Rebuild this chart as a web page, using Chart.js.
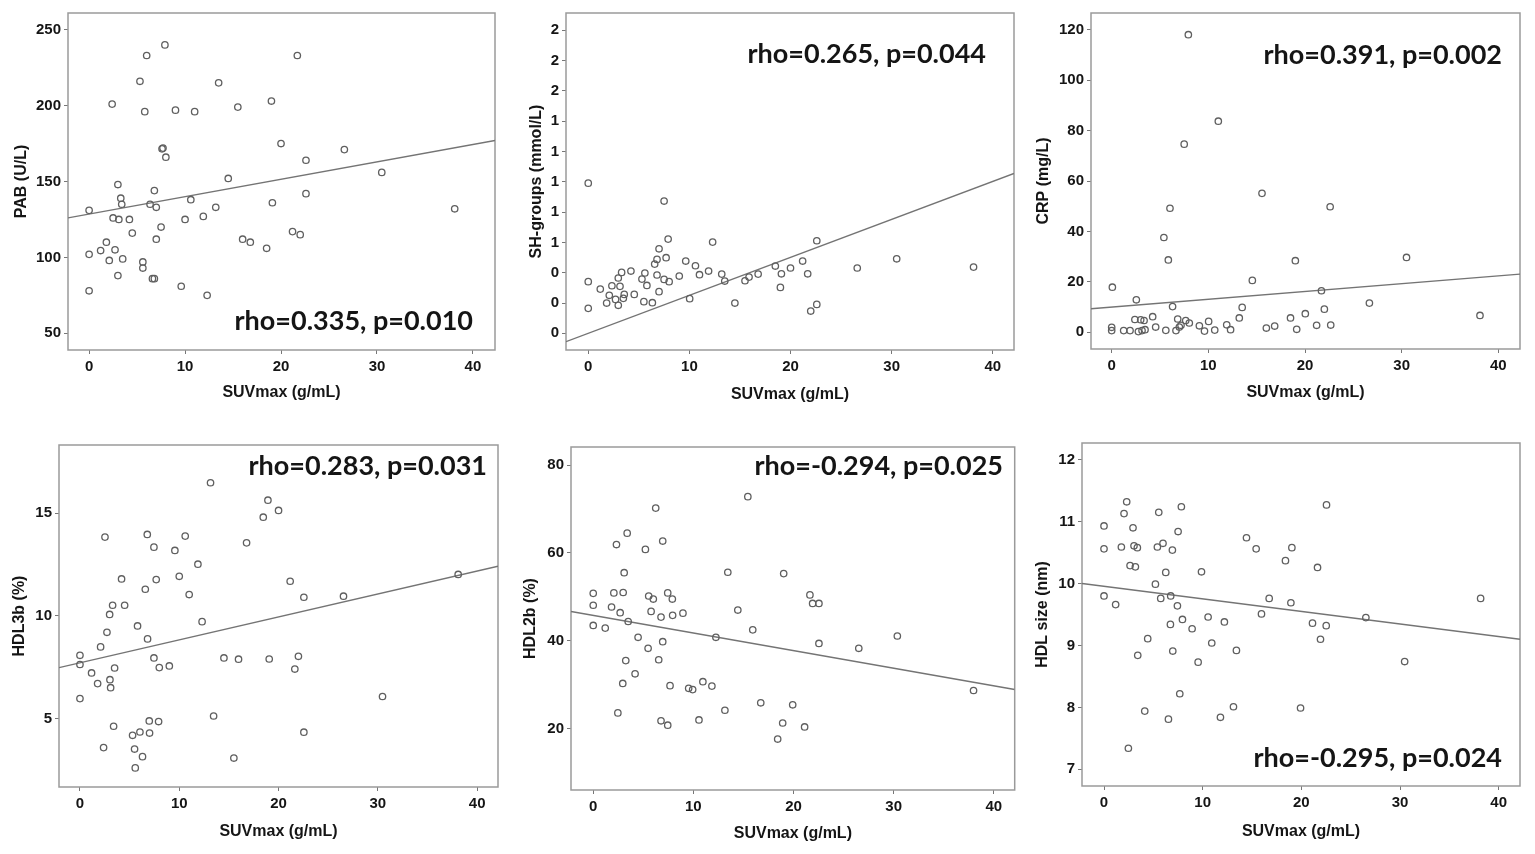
<!DOCTYPE html>
<html>
<head>
<meta charset="utf-8">
<script src="https://cdn.jsdelivr.net/npm/chart.js@4.4.1/dist/chart.umd.min.js"></script>
<style>
  html, body { margin: 0; padding: 0; background: #fff; }
  body { width: 1535px; height: 854px; position: relative; overflow: hidden; }
  .cell { position: absolute; }
  .cell canvas { display: block; }
</style>
</head>
<body>
<div class="cell" id="cell-pab"><canvas id="pab"></canvas></div>
<div class="cell" id="cell-sh"><canvas id="sh"></canvas></div>
<div class="cell" id="cell-crp"><canvas id="crp"></canvas></div>
<div class="cell" id="cell-hdl3b"><canvas id="hdl3b"></canvas></div>
<div class="cell" id="cell-hdl2b"><canvas id="hdl2b"></canvas></div>
<div class="cell" id="cell-size"><canvas id="size"></canvas></div>
<script>
// values (SUVmax on x for every panel)
const pabX = [0, 0, 0, 1.2, 1.8, 2.1, 2.4, 2.5, 2.7, 3.0, 3.0, 3.1, 3.3, 3.4, 3.5, 4.2, 4.5, 5.3, 5.6, 5.6, 5.8, 6.0, 6.35, 6.6, 6.8, 6.8, 7.0, 7.0, 7.5, 7.6, 7.7, 7.9, 8.0, 9.0, 9.6, 10.0, 10.6, 11.0, 11.9, 12.3, 13.2, 13.5, 14.5, 15.5, 16.0, 16.8, 18.5, 19.0, 19.1, 20.0, 21.2, 21.7, 22.0, 22.6, 22.6, 26.6, 30.5, 38.1];
const pabY = [131, 102, 78, 104.5, 110, 98, 201, 126, 105, 148, 88, 125, 139, 135, 99, 125, 116, 216, 97, 93, 196, 233, 135, 86, 86, 144, 133, 112, 120, 171.5, 172, 240, 166, 197, 81, 125, 138, 196, 127, 75, 133, 215, 152, 199, 112, 110, 106, 203, 136, 175, 117, 233, 115, 164, 142, 171, 156, 132];
const pabFitX = [-2.2, 42.3];
const pabFitY = [126, 177];

const shX = [0, 0, 0, 1.19, 1.82, 2.08, 2.34, 2.7, 2.97, 2.97, 3.14, 3.3, 3.47, 3.56, 4.22, 4.55, 5.31, 5.5, 5.6, 5.8, 6.34, 6.57, 6.8, 6.8, 7.0, 7.0, 7.5, 7.5, 7.7, 7.9, 8.0, 9.0, 9.64, 10.03, 10.6, 11.0, 11.9, 12.3, 13.2, 13.5, 14.5, 15.5, 15.9, 16.8, 18.5, 19.0, 19.1, 20.0, 21.2, 21.7, 22.0, 22.6, 22.6, 26.6, 30.5, 38.1];
const shY = [0.991, 0.341, 0.165, 0.292, 0.2, 0.251, 0.314, 0.224, 0.365, 0.185, 0.31, 0.402, 0.231, 0.257, 0.411, 0.257, 0.358, 0.209, 0.398, 0.316, 0.202, 0.457, 0.488, 0.385, 0.558, 0.275, 0.873, 0.356, 0.499, 0.622, 0.341, 0.378, 0.477, 0.229, 0.446, 0.387, 0.411, 0.602, 0.391, 0.345, 0.2, 0.347, 0.371, 0.391, 0.444, 0.303, 0.393, 0.431, 0.477, 0.393, 0.147, 0.611, 0.191, 0.431, 0.492, 0.437];
const shFitX = [-2.2, 42.1];
const shFitY = [-0.055, 1.055];

const crpX = [0.07, 0, 0, 1.24, 1.9, 2.4, 2.55, 2.76, 3.0, 3.14, 3.35, 3.45, 4.24, 4.55, 5.4, 5.6, 5.86, 6.03, 6.3, 6.65, 6.83, 7.0, 7.17, 7.5, 7.66, 7.93, 8.03, 9.07, 9.6, 10.03, 10.66, 11.03, 11.9, 12.3, 13.2, 13.5, 14.55, 15.55, 16.0, 16.86, 18.5, 19.0, 19.14, 20.03, 21.2, 21.7, 22.0, 22.6, 22.66, 26.66, 30.5, 38.1];
const crpY = [17.9, 2.0, 0.7, 0.7, 0.7, 5.1, 12.9, 0.3, 5.0, 0.7, 4.7, 1.05, 6.2, 2.1, 37.6, 0.8, 28.7, 49.2, 10.2, 0.7, 5.3, 2.1, 2.8, 74.6, 4.7, 118, 3.7, 2.6, 0.5, 4.35, 0.9, 83.7, 3.0, 1.05, 5.7, 9.9, 20.6, 55.1, 1.7, 2.5, 5.7, 28.4, 1.2, 7.4, 2.8, 16.5, 9.2, 49.8, 2.9, 11.6, 29.7, 6.7];
const crpFitX = [-2.14, 42.24];
const crpFitY = [9.36, 23.08];

const hdl3bX = [0, 0, 0, 1.17, 1.78, 2.08, 2.38, 2.52, 2.72, 2.99, 3.02, 3.09, 3.29, 3.39, 3.49, 4.19, 4.5, 5.3, 5.5, 5.57, 5.8, 6.04, 6.3, 6.58, 6.78, 6.81, 6.98, 7.01, 7.45, 7.45, 7.68, 7.92, 7.99, 9.0, 9.56, 10.0, 10.6, 11.0, 11.88, 12.3, 13.15, 13.46, 14.5, 15.5, 15.97, 16.78, 18.46, 18.93, 19.06, 20.0, 21.17, 21.64, 22.0, 22.55, 22.55, 26.54, 30.47, 38.09];
const hdl3bY = [8.08, 7.63, 5.97, 7.22, 6.7, 8.49, 3.58, 13.84, 9.2, 10.07, 6.89, 6.5, 10.52, 4.62, 7.46, 11.8, 10.52, 4.18, 3.51, 2.59, 9.51, 4.34, 3.14, 11.3, 13.97, 8.88, 4.88, 4.29, 13.35, 7.95, 11.77, 4.85, 7.48, 7.56, 13.19, 11.93, 13.89, 11.04, 12.52, 9.72, 16.49, 5.12, 7.95, 3.07, 7.89, 13.56, 14.81, 15.64, 7.9, 15.14, 11.69, 7.41, 8.03, 10.91, 4.33, 10.96, 6.07, 12.02];
const hdl3bFitX = [-2.11, 42.1];
const hdl3bFitY = [7.48, 12.42];

const hdl2bX = [0, 0, 0, 1.2, 1.83, 2.06, 2.32, 2.46, 2.69, 2.95, 2.99, 3.09, 3.25, 3.39, 3.49, 4.18, 4.48, 5.21, 5.48, 5.54, 5.78, 6.0, 6.24, 6.54, 6.77, 6.77, 6.94, 6.94, 7.44, 7.44, 7.67, 7.9, 7.93, 8.96, 9.53, 9.93, 10.56, 10.95, 11.85, 12.25, 13.15, 13.44, 14.44, 15.44, 15.93, 16.73, 18.42, 18.92, 19.02, 19.92, 21.11, 21.64, 21.91, 22.54, 22.54, 26.52, 30.37, 37.98];
const hdl2bY = [50.8, 48.1, 43.5, 42.9, 47.7, 50.9, 61.9, 23.6, 46.4, 30.3, 51.0, 55.5, 35.5, 64.5, 44.4, 32.5, 40.8, 60.8, 38.3, 50.2, 46.7, 49.5, 70.2, 35.7, 45.4, 21.8, 62.7, 39.8, 50.9, 20.8, 29.8, 49.5, 45.8, 46.3, 29.2, 28.9, 22.0, 30.7, 29.7, 40.8, 24.2, 55.6, 47.0, 72.8, 42.5, 25.9, 17.65, 21.3, 55.3, 25.45, 20.4, 50.45, 48.5, 48.5, 39.4, 38.3, 41.1, 28.7];
const hdl2bFitX = [-2.22, 42.09];
const hdl2bFitY = [46.67, 28.94];

const sizeX = [0, 0, 0, 1.18, 1.76, 2.03, 2.3, 2.47, 2.64, 2.94, 3.04, 3.18, 3.38, 3.42, 4.13, 4.43, 5.21, 5.41, 5.55, 5.75, 5.98, 6.26, 6.53, 6.73, 6.76, 6.93, 6.97, 7.44, 7.51, 7.68, 7.84, 7.95, 8.93, 9.54, 9.88, 10.55, 10.92, 11.8, 12.2, 13.12, 13.42, 14.44, 15.42, 15.96, 16.74, 18.39, 18.94, 19.04, 19.92, 21.13, 21.64, 21.94, 22.52, 22.55, 26.54, 30.47, 38.17];
const sizeY = [10.93, 10.56, 9.80, 9.66, 10.59, 11.13, 11.32, 7.34, 10.29, 10.9, 10.61, 10.27, 10.58, 8.84, 7.94, 9.11, 9.99, 10.59, 11.15, 9.76, 10.65, 10.18, 7.81, 9.34, 9.80, 10.54, 8.91, 9.64, 10.84, 8.22, 11.24, 9.42, 9.27, 8.73, 10.19, 9.46, 9.04, 7.84, 9.38, 8.01, 8.92, 10.74, 10.56, 9.51, 9.76, 10.37, 9.69, 10.58, 7.99, 9.36, 10.26, 9.1, 9.32, 11.27, 9.45, 8.74, 9.76];
const sizeFitX = [-2.23, 42.16];
const sizeFitY = [10.0, 9.10];

const xTitle = 'SUVmax (g/mL)';
const yTitles = ['PAB (U/L)', 'SH-groups (mmol/L)', 'CRP (mg/L)', 'HDL3b (%)', 'HDL2b (%)', 'HDL size (nm)'];
const rhoLabels = ['rho=0.335, p=0.010', 'rho=0.265, p=0.044', 'rho=0.391, p=0.002',
                   'rho=0.283, p=0.031', 'rho=-0.294, p=0.025', 'rho=-0.295, p=0.024'];

const INK = '#151515';
const FRAME = '#9a9a9a';
const POINT = '#5f5f5f';
const LINE = '#747474';
const TICK_FONT = { family: "'Liberation Sans', Arial, sans-serif", size: 15, weight: 'bold' };
const TITLE_FONT = { family: "'Liberation Sans', Arial, sans-serif", size: 16, weight: 'bold' };

// page layout of each panel: cell [left, top, width, height], frame [l, t, r, b]
const panels = [
  { id: 'pab', cell: [0, 0, 510, 425], frame: [68, 13, 495, 350], yTitleX: 22, xTitleY: 393,
    xs: pabX, ys: pabY, fx: pabFitX, fy: pabFitY, xr: [-2.2, 42.3], yr: [39, 261], step: 50, label: [473, 330] },
  { id: 'sh', cell: [510, 0, 510, 425], frame: [566, 13, 1014, 350], yTitleX: 537, xTitleY: 395,
    xs: shX, ys: shY, fx: shFitX, fy: shFitY, xr: [-2.2, 42.1], yr: [-0.11, 2.114], step: 0.2, round: true, label: [986, 63] },
  { id: 'crp', cell: [1020, 0, 515, 425], frame: [1091, 13, 1520, 349], yTitleX: 1044, xTitleY: 393,
    xs: crpX, ys: crpY, fx: crpFitX, fy: crpFitY, xr: [-2.14, 42.24], yr: [-6.6, 126.6], step: 20, label: [1502, 64] },
  { id: 'hdl3b', cell: [0, 425, 510, 429], frame: [59, 445, 498, 787], yTitleX: 20, xTitleY: 832,
    xs: hdl3bX, ys: hdl3bY, fx: hdl3bFitX, fy: hdl3bFitY, xr: [-2.11, 42.1], yr: [1.66, 18.33], step: 5, label: [487, 475] },
  { id: 'hdl2b', cell: [510, 425, 510, 429], frame: [571, 447, 1016, 790], yTitleX: 531, xTitleY: 834,
    xs: hdl2bX, ys: hdl2bY, fx: hdl2bFitX, fy: hdl2bFitY, xr: [-2.22, 42.09], yr: [6.06, 84.1], step: 20, label: [1003, 475] },
  { id: 'size', cell: [1020, 425, 515, 429], frame: [1082, 443, 1520, 786], yTitleX: 1043, xTitleY: 832,
    xs: sizeX, ys: sizeY, fx: sizeFitX, fy: sizeFitY, xr: [-2.23, 42.16], yr: [6.73, 12.27], step: 1, label: [1502, 767] }
];

const toPoints = (xs, ys) => xs.map((x, i) => ({ x: x, y: ys[i] }));

const framePlugin = {
  id: 'frame',
  beforeDatasetsDraw(chart) {
    const { ctx, chartArea: a } = chart;
    ctx.save();
    ctx.strokeStyle = FRAME;
    ctx.lineWidth = 1.5;
    ctx.strokeRect(a.left, a.top, a.right - a.left, a.bottom - a.top);
    ctx.restore();
  },
  afterDraw(chart, args, opts) {
    const ctx = chart.ctx;
    ctx.save();
    ctx.font = 'bold 27px Lato';
    ctx.fillStyle = INK;
    ctx.textAlign = 'right';
    ctx.textBaseline = 'alphabetic';
    ctx.fillText(opts.text, opts.x, opts.y);
    ctx.restore();
  }
};

panels.forEach((p, i) => {
  const [cl, ct, cw, ch] = p.cell;
  const [fl, ft, fr, fb] = p.frame;
  const cellDiv = document.getElementById('cell-' + p.id);
  cellDiv.style.left = cl + 'px';
  cellDiv.style.top = ct + 'px';
  const canvas = document.getElementById(p.id);
  canvas.width = cw;
  canvas.height = ch;
  canvas.style.width = cw + 'px';
  canvas.style.height = ch + 'px';

  const half = TITLE_FONT.size * 1.2 / 2;

  new Chart(canvas.getContext('2d'), {
    type: 'scatter',
    data: {
      datasets: [{
        data: toPoints(p.xs, p.ys),
        pointStyle: 'circle',
        pointRadius: 3.2,
        pointBorderWidth: 1.3,
        pointBorderColor: POINT,
        pointBackgroundColor: 'rgba(255,255,255,0)'
      }, {
        data: toPoints(p.fx, p.fy),
        showLine: true,
        borderColor: LINE,
        borderWidth: 1.4,
        pointRadius: 0
      }]
    },
    options: {
      responsive: false,
      animation: false,
      events: [],
      layout: { padding: { left: 0, top: ft - ct, right: cl + cw - fr, bottom: 0 } },
      plugins: {
        legend: { display: false },
        tooltip: { enabled: false },
        frame: { text: rhoLabels[i], x: p.label[0] - cl, y: p.label[1] - ct }
      },
      scales: {
        x: {
          type: 'linear',
          position: 'bottom',
          min: p.xr[0],
          max: p.xr[1],
          border: { display: false },
          grid: { drawOnChartArea: false, drawTicks: true, tickLength: 4, color: '#777' },
          ticks: { stepSize: 10, includeBounds: false, maxRotation: 0, padding: 4, color: INK, font: TICK_FONT },
          title: { display: true, text: xTitle, color: INK, font: TITLE_FONT,
                   padding: { top: 0, bottom: (ct + ch) - p.xTitleY - half } },
          afterFit: s => { s.height = (ct + ch) - fb; }
        },
        y: {
          type: 'linear',
          position: 'left',
          min: p.yr[0],
          max: p.yr[1],
          border: { display: false },
          grid: { drawOnChartArea: false, drawTicks: true, tickLength: 4, color: '#777' },
          ticks: {
            stepSize: p.step,
            includeBounds: false,
            padding: 3,
            color: INK,
            font: TICK_FONT,
            callback: v => p.round ? Math.round(v) : v
          },
          title: { display: true, text: yTitles[i], color: INK, font: TITLE_FONT,
                   padding: { top: p.yTitleX - cl - half, bottom: 0 } },
          afterFit: s => { s.width = fl - cl; }
        }
      }
    },
    plugins: [framePlugin]
  });
});
</script>
</body>
</html>
